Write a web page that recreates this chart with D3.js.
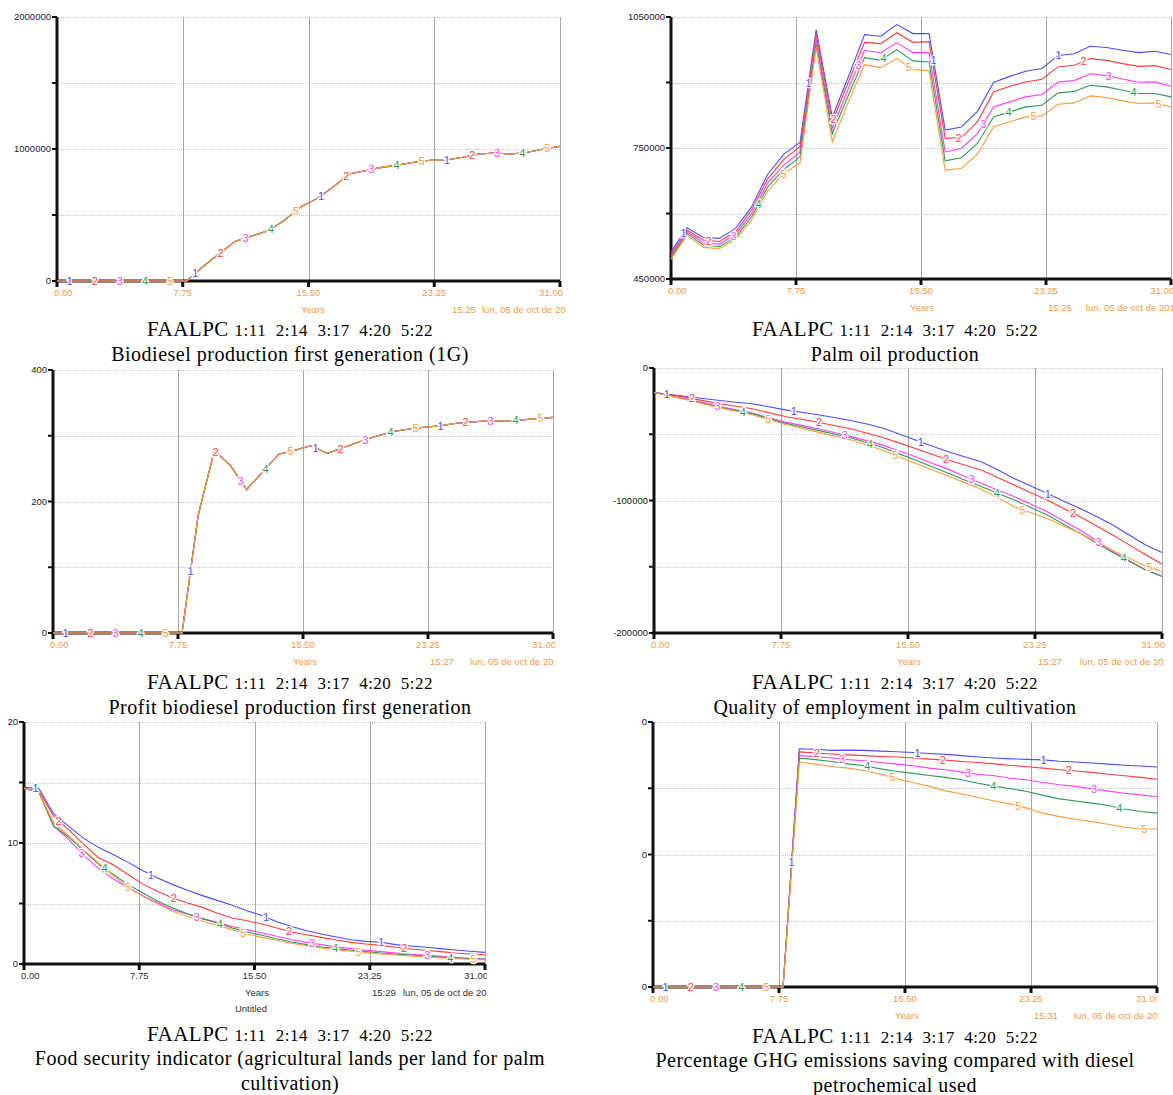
<!DOCTYPE html>
<html><head><meta charset="utf-8">
<script src="https://cdn.jsdelivr.net/npm/d3@7/dist/d3.min.js"></script>
<style>body{margin:0;background:#fff;} svg{display:block;}</style>
</head><body>
<svg id="c" width="1173" height="1095"></svg>
<script>
// ---------- shared ----------
const years = [0,1,2,3,4,5,6,7,8,9,10,11,12,13,14,15,16,17,18,19,20,21,22,23,24,25,26,27,28,29,30,31];
const xTickValues = [0, 7.75, 15.5, 23.25, 31];
const xTickLabels = ["0.00","7.75","15.50","23.25","31.00"];
const seriesNames = ["1","2","3","4","5"];
const seriesColors = ["#4d4dff","#ff3d3d","#ff3dff","#2f9a58","#ff9a3c"];
const runLegendName = "FAALPC";
const runLegendCodes = ["1:11","2:14","3:17","4:20","5:22"];
const xAxisTitle = "Years";

// ---------- panel 1: Biodiesel production first generation ----------
const bioTitle = ["Biodiesel production first generation (1G)"];
const bioYTicks = [0,500000,1000000,1500000,2000000];
const bioYLabels = ["0","","1000000","","2000000"];
const bioAllRuns = [0,0,0,0,0,0,0,0,0,110000,207000,302000,340000,380000,458000,560000,622000,710000,810000,835000,861000,878000,900000,915000,917000,937000,962000,970000,962000,975000,1000000,1020000];
const bioTime = "15:25";

// ---------- panel 2: Palm oil production ----------
const palmTitle = ["Palm oil production"];
const palmYTicks = [450000,600000,750000,900000,1050000];
const palmYLabels = ["450000","","750000","","1050000"];
const palm1 = [512500,567400,545000,543000,566000,615000,690000,736000,762500,1021000,821000,913000,1009600,1005800,1032500,1012000,1012000,791000,798000,834000,900000,914000,925700,932000,962000,966000,983000,980000,974000,968500,971500,964000];
const palm2 = [507000,562000,539000,536000,558000,608000,680000,724000,753000,1012000,810000,901000,992000,989000,1014000,992000,993500,772000,774000,810000,878500,891500,901000,907400,935700,939500,954700,950700,943300,937000,938600,929600];
const palm3 = [502600,558000,533000,530000,552000,600000,670000,710700,741000,1000500,794600,886000,973700,967600,991300,968400,968400,741000,749000,783000,844000,855600,867000,872400,901000,904300,920000,915800,908200,900500,901400,891500];
const palm4 = [499600,554400,527800,524000,545300,592500,661200,700800,729800,990400,783200,870800,957000,950700,975200,949500,947000,720600,727500,760300,821300,832700,844100,848000,876200,879200,893700,889900,882300,874700,874700,867000];
const palm5 = [495000,550600,522400,519400,540700,585000,652000,691700,716000,981400,764100,855600,941000,934000,954700,929600,926600,699300,703100,735900,798400,809900,821300,823600,850300,853300,869300,865500,857900,851800,853300,844100];
const palmTime = "15:25";

// ---------- panel 3: Profit biodiesel production first generation ----------
const profitTitle = ["Profit biodiesel production first generation"];
const profitYTicks = [0,100,200,300,400];
const profitYLabels = ["0","","200","","400"];
const profitAllRuns = [0,0,0,0,0,0,0,0,0,179,277,255,218,245,272,278,285,273,282,291,299,306,310,313,315,319,321,323,322,324,326,328];
const profitTime = "15:27";

// ---------- panel 4: Quality of employment in palm cultivation ----------
const employTitle = ["Quality of employment in palm cultivation"];
const employYTicks = [-200000,-150000,-100000,-50000,0];
const employYLabels = ["-200000","","-100000","","0"];
const employ1 = [-18500,-20000,-21500,-23000,-24500,-25800,-27000,-29200,-31600,-33400,-35300,-37400,-39600,-42200,-45400,-50000,-54600,-59000,-63400,-67200,-71000,-77000,-83500,-89000,-94700,-100500,-106000,-112000,-118500,-126000,-133600,-139300];
const employ2 = [-18500,-20300,-22200,-24600,-27000,-28900,-30800,-33700,-36600,-38700,-40900,-43400,-45900,-49200,-52600,-56700,-60900,-65300,-69700,-73400,-77200,-82800,-88500,-94100,-99700,-106000,-112300,-119100,-126000,-133500,-141000,-147900];
const employ3 = [-18500,-20900,-23300,-26100,-29000,-31500,-34000,-37400,-40800,-43300,-45900,-48700,-51600,-55000,-58400,-62800,-67200,-72000,-76700,-82000,-87200,-92200,-97200,-102800,-108500,-115400,-122300,-130400,-138600,-145500,-152400,-156900];
const employ4 = [-18500,-21100,-23800,-26700,-29600,-32100,-34600,-38100,-41600,-44300,-47100,-49800,-52600,-56400,-60200,-65000,-69700,-74700,-79700,-84700,-89700,-94700,-99700,-105300,-111000,-117900,-124800,-132000,-139300,-145900,-152400,-157400];
const employ5 = [-18500,-21200,-24000,-27000,-30100,-32700,-35300,-38900,-42600,-45500,-48400,-51200,-54100,-58100,-62200,-67200,-72200,-77000,-81700,-86700,-91700,-98200,-104800,-109200,-113500,-119200,-124800,-131300,-137800,-143600,-149400,-153600];
const employTime = "15:27";

// ---------- panel 5: Food security indicator ----------
const foodTitle = ["Food security indicator (agricultural lands per land for palm","cultivation)"];
const foodYTicks = [0,5,10,15,20];
const foodYLabels = ["0","","10","","20"];
const food1 = [14.6,14.5,12.4,11.4,10.4,9.64,9.04,8.4,7.7,7.1,6.56,6.09,5.65,5.26,4.85,4.4,4.0,3.5,3.1,2.75,2.48,2.23,2.0,1.87,1.8,1.6,1.49,1.38,1.27,1.16,1.05,0.96];
const food2 = [14.5,14.3,12.2,11.1,9.9,8.8,8.2,7.4,6.6,6.0,5.45,5.04,4.68,4.2,3.8,3.58,3.3,2.98,2.64,2.42,2.2,1.98,1.79,1.65,1.54,1.38,1.24,1.13,1.02,0.91,0.83,0.77];
const food3 = [14.5,14.2,11.4,10.3,9.0,7.9,7.05,6.28,5.65,5.04,4.49,4.13,3.75,3.44,3.1,2.84,2.56,2.29,2.0,1.79,1.6,1.4,1.27,1.13,1.02,0.91,0.8,0.72,0.63,0.55,0.47,0.41];
const food4 = [14.5,14.2,11.4,10.5,9.37,8.26,7.4,6.56,5.87,5.18,4.63,4.16,3.75,3.39,2.98,2.64,2.37,2.09,1.82,1.6,1.4,1.27,1.13,1.02,0.91,0.83,0.74,0.66,0.58,0.5,0.44,0.39];
const food5 = [14.5,14.2,11.65,10.6,9.45,8.35,7.3,6.34,5.6,4.96,4.35,3.94,3.53,3.2,2.84,2.48,2.2,1.96,1.71,1.52,1.32,1.18,1.05,0.94,0.83,0.74,0.66,0.58,0.5,0.44,0.39,0.33];
const foodTime = "15:29";
const foodFooter = "Untitled";

// ---------- panel 6: Percentage GHG emissions saving ----------
const ghgTitle = ["Percentage GHG emissions saving compared with diesel","petrochemical used"];
const ghgYTicks = [0,0.25,0.5,0.75,1];
const ghgYLabels = ["0","","0","","0"];
const ghg1 = [0,0,0,0,0,0,0,0,0,0.899,0.897,0.893,0.894,0.893,0.890,0.888,0.885,0.881,0.878,0.873,0.868,0.864,0.861,0.859,0.857,0.852,0.849,0.845,0.841,0.837,0.834,0.830];
const ghg2 = [0,0,0,0,0,0,0,0,0,0.887,0.883,0.879,0.876,0.873,0.870,0.868,0.864,0.860,0.856,0.851,0.847,0.842,0.836,0.831,0.826,0.820,0.815,0.810,0.803,0.797,0.791,0.784];
const ghg3 = [0,0,0,0,0,0,0,0,0,0.874,0.869,0.864,0.858,0.854,0.847,0.841,0.835,0.826,0.820,0.811,0.803,0.797,0.788,0.781,0.772,0.763,0.757,0.748,0.739,0.731,0.725,0.718];
const ghg4 = [0,0,0,0,0,0,0,0,0,0.864,0.858,0.851,0.842,0.835,0.823,0.813,0.806,0.798,0.791,0.782,0.769,0.758,0.748,0.738,0.723,0.710,0.702,0.694,0.685,0.672,0.662,0.656];
const ghg5 = [0,0,0,0,0,0,0,0,0,0.849,0.841,0.832,0.826,0.817,0.803,0.786,0.772,0.757,0.740,0.728,0.715,0.702,0.690,0.675,0.656,0.643,0.633,0.624,0.614,0.603,0.596,0.596];
const ghgTime = "15:31";

const dateText = "lun, 05 de oct de 2015";

// ---------- layout ----------
const ORANGE = "#f29b45";
const panels = [
  {x0:57,x1:560,y0:17,y1:281,clipX:566,timeX:452,dateX:482,yearsX:313,capX:290,capY:[329,354],
   yTicks:bioYTicks,yLabels:bioYLabels,series:[bioAllRuns,bioAllRuns,bioAllRuns,bioAllRuns,bioAllRuns],title:bioTitle,time:bioTime,xColor:ORANGE},
  {x0:671,x1:1171,y0:17,y1:279,clipX:1173,timeX:1048,dateX:1086,yearsX:922,capX:895,capY:[329,354],
   yTicks:palmYTicks,yLabels:palmYLabels,series:[palm1,palm2,palm3,palm4,palm5],title:palmTitle,time:palmTime,xColor:ORANGE},
  {x0:53,x1:553,y0:370,y1:633,clipX:555,timeX:430,dateX:470,yearsX:305,capX:290,capY:[682,707],
   yTicks:profitYTicks,yLabels:profitYLabels,series:[profitAllRuns,profitAllRuns,profitAllRuns,profitAllRuns,profitAllRuns],title:profitTitle,time:profitTime,xColor:ORANGE},
  {x0:654,x1:1162,y0:368,y1:633,clipX:1165,timeX:1038,dateX:1080,yearsX:909,capX:895,capY:[682,707],
   yTicks:employYTicks,yLabels:employYLabels,series:[employ1,employ2,employ3,employ4,employ5],title:employTitle,time:employTime,xColor:ORANGE},
  {x0:24,x1:485,y0:722,y1:964,clipX:487,timeX:372,dateX:403,yearsX:257,capX:290,capY:[1034,1058,1083],
   yTicks:foodYTicks,yLabels:foodYLabels,series:[food1,food2,food3,food4,food5],title:foodTitle,time:foodTime,xColor:"#333",footer:foodFooter,footerX:251,footerY:1009},
  {x0:653,x1:1157,y0:722,y1:987,clipX:1157,timeX:1034,dateX:1074,yearsX:907,capX:895,capY:[1036,1060,1085],
   yTicks:ghgYTicks,yLabels:ghgYLabels,series:[ghg1,ghg2,ghg3,ghg4,ghg5],title:ghgTitle,time:ghgTime,xColor:ORANGE}
];

const svg = d3.select("#c");
const SANS = "'Liberation Sans', Arial, sans-serif";
const SERIF = "'Liberation Serif', 'Times New Roman', serif";

function interp(arr, t){
  const i = Math.min(Math.floor(t), years.length - 2);
  const f = t - years[i];
  return arr[i] + (arr[i+1] - arr[i]) * f;
}

panels.forEach((p, pi) => {
  const g = svg.append("g");
  const x = d3.scaleLinear().domain([years[0], years[years.length-1]]).range([p.x0, p.x1]);
  const y = d3.scaleLinear().domain([p.yTicks[0], p.yTicks[p.yTicks.length-1]]).range([p.y1, p.y0]);

  const clipId = "clip" + pi;
  svg.append("clipPath").attr("id", clipId).append("rect")
    .attr("x", 0).attr("y", 0).attr("width", p.clipX).attr("height", 1095);

  // horizontal dotted grid
  g.selectAll(".hg").data(p.yTicks.slice(1)).join("line")
    .attr("x1", p.x0).attr("x2", p.x1)
    .attr("y1", d => Math.round(y(d)) + 0.5).attr("y2", d => Math.round(y(d)) + 0.5)
    .attr("stroke", "#c4c4c4").attr("stroke-width", 1).attr("stroke-dasharray", "1,1");
  // vertical grid
  g.selectAll(".vg").data(xTickValues.slice(1)).join("line")
    .attr("x1", d => Math.round(x(d)) + 0.5).attr("x2", d => Math.round(x(d)) + 0.5)
    .attr("y1", p.y0).attr("y2", p.y1)
    .attr("stroke", "#a8a8a8").attr("stroke-width", 1);

  // axes
  const ax = g.append("g");
  ax.append("line").attr("x1", p.x0).attr("x2", p.x0).attr("y1", p.y0).attr("y2", p.y1 + 1.5)
    .attr("stroke", "#111").attr("stroke-width", 3);
  ax.append("line").attr("x1", p.x0 - 1.5).attr("x2", p.x1).attr("y1", p.y1).attr("y2", p.y1)
    .attr("stroke", "#111").attr("stroke-width", 3);
  ax.selectAll(".yt").data(p.yTicks).join("line")
    .attr("x1", p.x0 - 5).attr("x2", p.x0).attr("y1", d => y(d)).attr("y2", d => y(d))
    .attr("stroke", "#111").attr("stroke-width", 2);
  ax.selectAll(".xt").data(xTickValues).join("line")
    .attr("x1", d => x(d)).attr("x2", d => x(d)).attr("y1", p.y1).attr("y2", p.y1 + 6)
    .attr("stroke", "#111").attr("stroke-width", 3);

  // y labels
  g.selectAll(".yl").data(p.yTicks).join("text")
    .attr("x", p.x0 - 6).attr("y", d => y(d)).attr("dy", "0.35em")
    .attr("text-anchor", "end").attr("font-family", SANS).attr("font-size", 9.5)
    .attr("fill", "#222").text((d, i) => p.yLabels[i]);

  // x labels
  const xl = g.append("g").attr("clip-path", `url(#${clipId})`);
  xl.selectAll(".xl").data(xTickValues).join("text")
    .attr("x", (d, i) => i === 0 ? p.x0 - 3 : (i === xTickValues.length - 1 ? p.x1 + 3 : x(d)))
    .attr("y", p.y1 + 12).attr("dy", "0.35em")
    .attr("text-anchor", (d, i) => i === 0 ? "start" : (i === xTickValues.length - 1 ? "end" : "middle"))
    .attr("font-family", SANS).attr("font-size", 9.5).attr("fill", p.xColor)
    .text((d, i) => xTickLabels[i]);
  xl.append("text").attr("x", p.yearsX).attr("y", p.y1 + 29).attr("dy", "0.35em")
    .attr("text-anchor", "middle").attr("font-family", SANS).attr("font-size", 9.5)
    .attr("fill", p.xColor).text(xAxisTitle);
  xl.append("text").attr("x", p.timeX).attr("y", p.y1 + 29).attr("dy", "0.35em")
    .attr("font-family", SANS).attr("font-size", 9.5).attr("fill", p.xColor).text(p.time);
  xl.append("text").attr("x", p.dateX).attr("y", p.y1 + 29).attr("dy", "0.35em")
    .attr("font-family", SANS).attr("font-size", 9.5)
    .attr("fill", p.xColor).text(dateText);
  if (p.footer) {
    g.append("text").attr("x", p.footerX).attr("y", p.footerY).attr("dy", "0.35em")
      .attr("text-anchor", "middle").attr("font-family", SANS).attr("font-size", 9.5)
      .attr("fill", "#333").text(p.footer);
  }

  // series
  const line = d3.line().x((d, i) => x(years[i])).y(d => y(d));
  p.series.forEach((s, si) => {
    g.append("path").attr("d", line(s)).attr("fill", "none")
      .attr("stroke", seriesColors[si]).attr("stroke-width", 1.1);
  });
  // series number labels along each line
  p.series.forEach((s, si) => {
    const ts = [0,1,2,3].map(j => 31/40 + si * 31/20 + j * 31/4);
    g.selectAll(null).data(ts).join("text")
      .attr("x", t => x(t)).attr("y", t => y(interp(s, t))).attr("dy", "0.36em")
      .attr("text-anchor", "middle").attr("font-family", SANS).attr("font-size", 11)
      .attr("fill", seriesColors[si]).attr("stroke", "#fff").attr("stroke-width", 2.5)
      .attr("paint-order", "stroke").text(seriesNames[si]);
  });

  // caption
  const cap = g.append("g");
  const l1 = cap.append("text").attr("x", p.capX).attr("y", p.capY[0] + 6.5)
    .attr("text-anchor", "middle").attr("font-family", SERIF).attr("fill", "#000")
    .attr("letter-spacing", 0.5).style("white-space", "pre");
  l1.append("tspan").attr("font-size", 21).text(runLegendName + " ");
  l1.append("tspan").attr("font-size", 17).text(runLegendCodes.join("  "));
  p.title.forEach((t, ti) => {
    cap.append("text").attr("x", p.capX).attr("y", p.capY[ti + 1] + 6.5)
      .attr("text-anchor", "middle").attr("font-family", SERIF).attr("font-size", 20)
      .attr("letter-spacing", 0.5).attr("fill", "#000").text(t);
  });
});
</script>
</body></html>
